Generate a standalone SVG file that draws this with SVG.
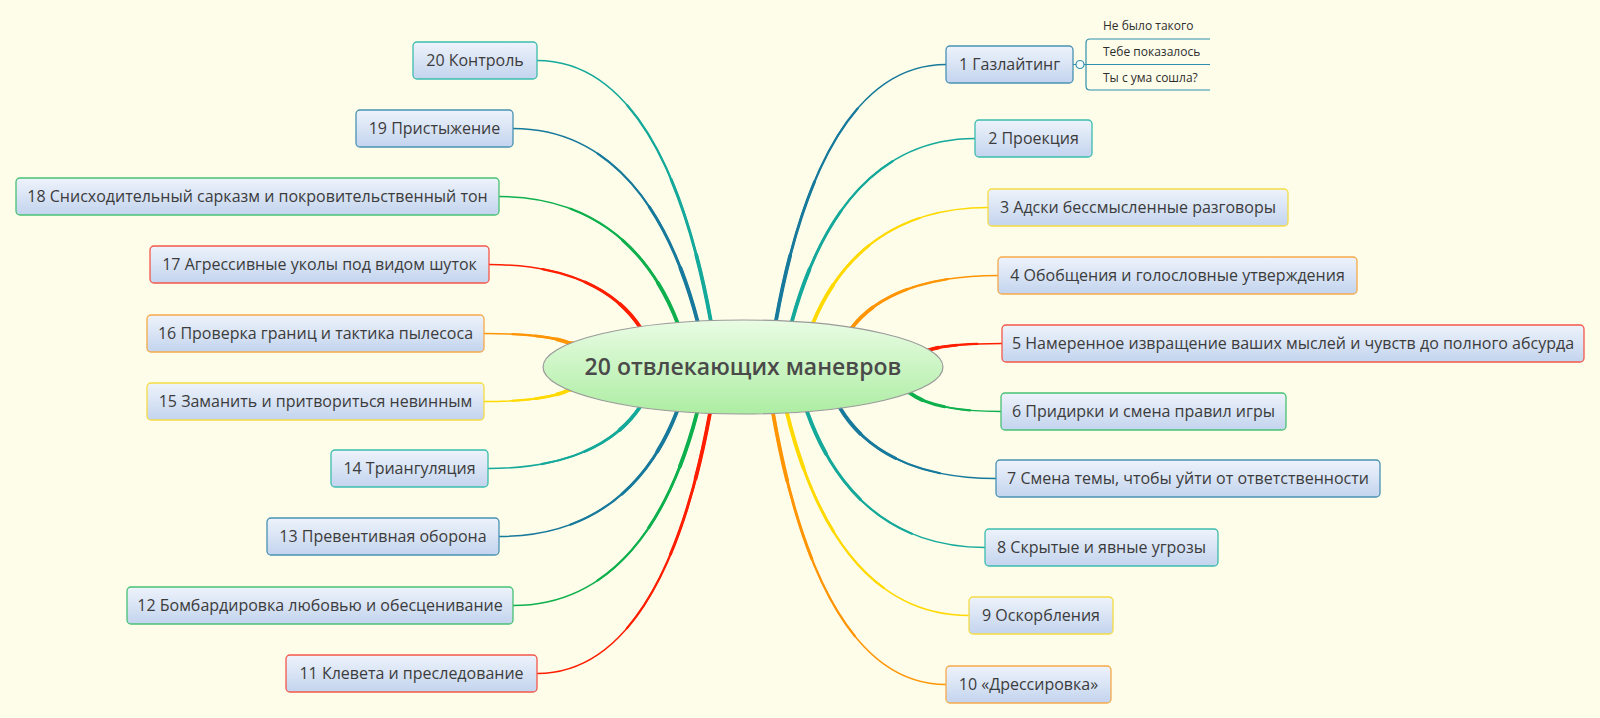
<svg xmlns="http://www.w3.org/2000/svg" xmlns:xlink="http://www.w3.org/1999/xlink" width="1600" height="718" viewBox="0 0 1600 718">
<style>
.t{font-family:"Open Sans","DejaVu Sans",sans-serif;font-size:16px;fill:#3c3c3c;text-anchor:middle}
.s{font-family:"Open Sans","DejaVu Sans",sans-serif;font-size:12px;fill:#2e2e2e}
.b{fill:url(#bg);stroke-width:1.3}
.w1{fill:none;stroke-width:1.5;stroke-linecap:round}
.w2{fill:none;stroke-width:2.2;stroke-linecap:round;stroke-dasharray:70 300}
.w3{fill:none;stroke-width:2.9;stroke-linecap:round;stroke-dasharray:45 300}
.w4{fill:none;stroke-width:3.8;stroke-linecap:round;stroke-dasharray:22 300}
.teal{stroke:#14a99a}.dblue{stroke:#17799b}.green{stroke:#0db04c}.red{stroke:#ff1e00}.orange{stroke:#ff9505}.yellow{stroke:#ffd900}
.bteal{stroke:#3cbcae}.bdblue{stroke:#4a92b4}.bgreen{stroke:#48c175}.bred{stroke:#f4574a}.borange{stroke:#f6a94a}.byellow{stroke:#f5dc45}
</style>
<defs>
<linearGradient id="bg" x1="0" y1="0" x2="0" y2="1"><stop offset="0" stop-color="#eef3fb"/><stop offset="1" stop-color="#c3d4ee"/></linearGradient>
<linearGradient id="eg" x1="0" y1="0" x2="0" y2="1"><stop offset="0" stop-color="#e9fce4"/><stop offset="1" stop-color="#adeda3"/></linearGradient>
<path id="c20" pathLength="100" d="M711,330 L711,322 C684.9,178.2 632.7,60.5 537,60.5"/>
<path id="c19" pathLength="100" d="M698,331 L698,323 C670.3,216 614.8,128.5 513,128.5"/>
<path id="c18" pathLength="100" d="M678,332 L678,324 C651.2,254.2 597.5,196.5 499,196.5"/>
<path id="c17" pathLength="100" d="M643,335 L640,327 C617.4,292.9 572,264.5 489,264.5"/>
<path id="c16" pathLength="100" d="M577,344 L569,343 C556.2,337.5 527.5,333.5 484,333.5"/>
<path id="c15" pathLength="100" d="M577,389 L569,390 C556.3,396.3 530.8,401.5 484,401.5"/>
<path id="c14" pathLength="100" d="M643,399 L640,407 C617.2,441.1 571.6,468.5 488,468.5"/>
<path id="c13" pathLength="100" d="M678,403 L677,411.4 C650.3,480.8 596.9,536.5 499,536.5"/>
<path id="c12" pathLength="100" d="M697,404 L697,413 C669.4,518.9 614.2,605.5 513,605.5"/>
<path id="c11" pathLength="100" d="M710,404 L710,413 C683.9,556 631.7,673.5 537,673.5"/>
<path id="c1" pathLength="100" d="M776,329 L776,320.6 C801.5,179.2 852.5,64.5 946,64.5"/>
<path id="c2" pathLength="100" d="M792,330 L792,321 C819.5,220.6 874.4,138.5 975,138.5"/>
<path id="c3" pathLength="100" d="M813,331 L813,323 C839.3,259.5 891.8,207.5 988,207.5"/>
<path id="c4" pathLength="100" d="M850,335 L852,327.6 C873.9,299 917.7,275.5 998,275.5"/>
<path id="c5" pathLength="100" d="M921,352 L929,350 C940,346.4 961.9,343.5 1002,343.5"/>
<path id="c6" pathLength="100" d="M902,390 L910,393 C923.7,403.5 951,411.5 1001,411.5"/>
<path id="c7" pathLength="100" d="M838,400 L840,408 C863.4,447 910.2,478.5 996,478.5"/>
<path id="c8" pathLength="100" d="M806,403 L807,411.5 C833.7,486.3 887.1,547.5 985,547.5"/>
<path id="c9" pathLength="100" d="M787,404 L787,413 C814.3,524.4 868.9,615.5 969,615.5"/>
<path id="c10" pathLength="100" d="M773,404 L773,413 C799,562 850.9,684.5 946,684.5"/>
</defs>
<rect width="1600" height="718" fill="#fdfde9"/>
<g id="connectors">
<g class="teal"><use xlink:href="#c20" class="w1"/><use xlink:href="#c20" class="w2"/><use xlink:href="#c20" class="w3"/><use xlink:href="#c20" class="w4"/></g>
<g class="dblue"><use xlink:href="#c19" class="w1"/><use xlink:href="#c19" class="w2"/><use xlink:href="#c19" class="w3"/><use xlink:href="#c19" class="w4"/></g>
<g class="green"><use xlink:href="#c18" class="w1"/><use xlink:href="#c18" class="w2"/><use xlink:href="#c18" class="w3"/><use xlink:href="#c18" class="w4"/></g>
<g class="red"><use xlink:href="#c17" class="w1"/><use xlink:href="#c17" class="w2"/><use xlink:href="#c17" class="w3"/><use xlink:href="#c17" class="w4"/></g>
<g class="orange"><use xlink:href="#c16" class="w1"/><use xlink:href="#c16" class="w2"/><use xlink:href="#c16" class="w3"/><use xlink:href="#c16" class="w4"/></g>
<g class="yellow"><use xlink:href="#c15" class="w1"/><use xlink:href="#c15" class="w2"/><use xlink:href="#c15" class="w3"/><use xlink:href="#c15" class="w4"/></g>
<g class="teal"><use xlink:href="#c14" class="w1"/><use xlink:href="#c14" class="w2"/><use xlink:href="#c14" class="w3"/><use xlink:href="#c14" class="w4"/></g>
<g class="dblue"><use xlink:href="#c13" class="w1"/><use xlink:href="#c13" class="w2"/><use xlink:href="#c13" class="w3"/><use xlink:href="#c13" class="w4"/></g>
<g class="green"><use xlink:href="#c12" class="w1"/><use xlink:href="#c12" class="w2"/><use xlink:href="#c12" class="w3"/><use xlink:href="#c12" class="w4"/></g>
<g class="red"><use xlink:href="#c11" class="w1"/><use xlink:href="#c11" class="w2"/><use xlink:href="#c11" class="w3"/><use xlink:href="#c11" class="w4"/></g>
<g class="dblue"><use xlink:href="#c1" class="w1"/><use xlink:href="#c1" class="w2"/><use xlink:href="#c1" class="w3"/><use xlink:href="#c1" class="w4"/></g>
<g class="teal"><use xlink:href="#c2" class="w1"/><use xlink:href="#c2" class="w2"/><use xlink:href="#c2" class="w3"/><use xlink:href="#c2" class="w4"/></g>
<g class="yellow"><use xlink:href="#c3" class="w1"/><use xlink:href="#c3" class="w2"/><use xlink:href="#c3" class="w3"/><use xlink:href="#c3" class="w4"/></g>
<g class="orange"><use xlink:href="#c4" class="w1"/><use xlink:href="#c4" class="w2"/><use xlink:href="#c4" class="w3"/><use xlink:href="#c4" class="w4"/></g>
<g class="red"><use xlink:href="#c5" class="w1"/><use xlink:href="#c5" class="w2"/><use xlink:href="#c5" class="w3"/><use xlink:href="#c5" class="w4"/></g>
<g class="green"><use xlink:href="#c6" class="w1"/><use xlink:href="#c6" class="w2"/><use xlink:href="#c6" class="w3"/><use xlink:href="#c6" class="w4"/></g>
<g class="dblue"><use xlink:href="#c7" class="w1"/><use xlink:href="#c7" class="w2"/><use xlink:href="#c7" class="w3"/><use xlink:href="#c7" class="w4"/></g>
<g class="teal"><use xlink:href="#c8" class="w1"/><use xlink:href="#c8" class="w2"/><use xlink:href="#c8" class="w3"/><use xlink:href="#c8" class="w4"/></g>
<g class="yellow"><use xlink:href="#c9" class="w1"/><use xlink:href="#c9" class="w2"/><use xlink:href="#c9" class="w3"/><use xlink:href="#c9" class="w4"/></g>
<g class="orange"><use xlink:href="#c10" class="w1"/><use xlink:href="#c10" class="w2"/><use xlink:href="#c10" class="w3"/><use xlink:href="#c10" class="w4"/></g>
<path d="M1073,64.5 L1076,64.5 M1084,64.5 L1210,64.5 M1210,39 L1090,39 Q1086,39 1086,43 L1086,86 Q1086,90 1090,90 L1210,90" fill="none" stroke="#2f8faf" stroke-width="1.2"/>
</g>
<g id="central">
<ellipse cx="743" cy="367" rx="200" ry="47" fill="url(#eg)" stroke="#9a9a9a" stroke-width="1.2"/>
<text x="743" y="375" style="font-family:'Open Sans','DejaVu Sans',sans-serif;font-size:23px;font-weight:600;fill:#4a4a4a;text-anchor:middle">20 отвлекающих маневров</text>
</g>
<g id="n1"><rect class="b bdblue" x="946" y="46" width="127" height="37" rx="4"/><text class="t" x="1009.5" y="70">1 Газлайтинг</text>
<circle cx="1080" cy="64.5" r="4" fill="#f4fbfd" stroke="#2f8faf" stroke-width="1.2"/></g>
<g id="n1a"><text class="s" x="1103" y="30">Не было такого</text></g>
<g id="n1b"><text class="s" x="1103" y="56">Тебе показалось</text></g>
<g id="n1c"><text class="s" x="1103" y="82">Ты с ума сошла?</text></g>
<g id="n2"><rect class="b bteal" x="975" y="120" width="117" height="37" rx="4"/><text class="t" x="1033.5" y="144">2 Проекция</text></g>
<g id="n3"><rect class="b byellow" x="988" y="189" width="300" height="37" rx="4"/><text class="t" x="1138" y="213">3 Адски бессмысленные разговоры</text></g>
<g id="n4"><rect class="b borange" x="998" y="257" width="359" height="37" rx="4"/><text class="t" x="1177.5" y="281">4 Обобщения и голословные утверждения</text></g>
<g id="n5"><rect class="b bred" x="1002" y="325" width="582" height="37" rx="4"/><text class="t" x="1293" y="349">5 Намеренное извращение ваших мыслей и чувств до полного абсурда</text></g>
<g id="n6"><rect class="b bgreen" x="1001" y="393" width="285" height="37" rx="4"/><text class="t" x="1143.5" y="417">6 Придирки и смена правил игры</text></g>
<g id="n7"><rect class="b bdblue" x="996" y="460" width="384" height="37" rx="4"/><text class="t" x="1188" y="484">7 Смена темы, чтобы уйти от ответственности</text></g>
<g id="n8"><rect class="b bteal" x="985" y="529" width="233" height="37" rx="4"/><text class="t" x="1101.5" y="553">8 Скрытые и явные угрозы</text></g>
<g id="n9"><rect class="b byellow" x="969" y="597" width="144" height="37" rx="4"/><text class="t" x="1041" y="621">9 Оскорбления</text></g>
<g id="n10"><rect class="b borange" x="946" y="666" width="165" height="37" rx="4"/><text class="t" x="1028.5" y="690">10 «Дрессировка»</text></g>
<g id="n11"><rect class="b bred" x="286" y="655" width="251" height="37" rx="4"/><text class="t" x="411.5" y="679">11 Клевета и преследование</text></g>
<g id="n12"><rect class="b bgreen" x="127" y="587" width="386" height="37" rx="4"/><text class="t" x="320" y="611">12 Бомбардировка любовью и обесценивание</text></g>
<g id="n13"><rect class="b bdblue" x="267" y="518" width="232" height="37" rx="4"/><text class="t" x="383" y="542">13 Превентивная оборона</text></g>
<g id="n14"><rect class="b bteal" x="331" y="450" width="157" height="37" rx="4"/><text class="t" x="409.5" y="474">14 Триангуляция</text></g>
<g id="n15"><rect class="b byellow" x="147" y="383" width="337" height="37" rx="4"/><text class="t" x="315.5" y="407">15 Заманить и притвориться невинным</text></g>
<g id="n16"><rect class="b borange" x="147" y="315" width="337" height="37" rx="4"/><text class="t" x="315.5" y="339">16 Проверка границ и тактика пылесоса</text></g>
<g id="n17"><rect class="b bred" x="150" y="246" width="339" height="37" rx="4"/><text class="t" x="319.5" y="270">17 Агрессивные уколы под видом шуток</text></g>
<g id="n18"><rect class="b bgreen" x="16" y="178" width="483" height="37" rx="4"/><text class="t" x="257.5" y="202">18 Снисходительный сарказм и покровительственный тон</text></g>
<g id="n19"><rect class="b bdblue" x="356" y="110" width="157" height="37" rx="4"/><text class="t" x="434.5" y="134">19 Пристыжение</text></g>
<g id="n20"><rect class="b bteal" x="413" y="42" width="124" height="37" rx="4"/><text class="t" x="475" y="66">20 Контроль</text></g>
</svg>
